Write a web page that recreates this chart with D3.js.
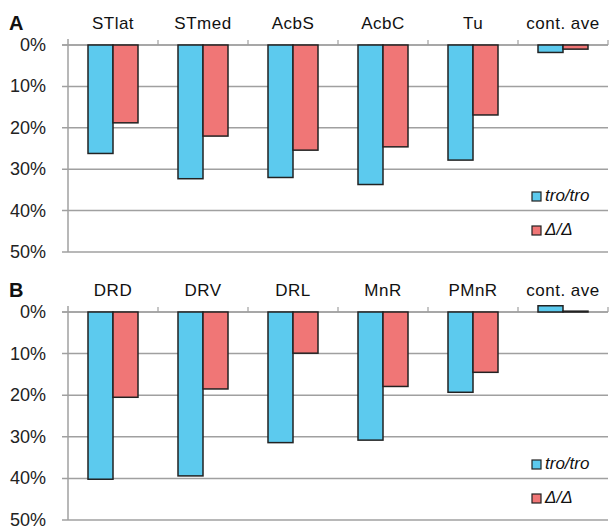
<!DOCTYPE html>
<html><head><meta charset="utf-8">
<script src="https://cdn.jsdelivr.net/npm/d3@7"></script>
<style>body{margin:0;background:#fff}svg{display:block}</style>
</head><body>
<svg id="c" width="610" height="531"></svg>
<script>
const catsA = ["STlat","STmed","AcbS","AcbC","Tu","cont. ave"];
const troA = [26.2, 32.3, 32.0, 33.7, 27.8, 1.8];
const delA = [18.8, 22.0, 25.4, 24.6, 16.9, 1.0];
const catsB = ["DRD","DRV","DRL","MnR","PMnR","cont. ave"];
const troB = [40.2, 39.4, 31.4, 30.8, 19.3, -1.5];
const delB = [20.5, 18.5, 9.9, 17.9, 14.5, -0.2];
const yTicks = [0,10,20,30,40,50];
const seriesNames = ["tro/tro","Δ/Δ"];
const colors = ["#5ccaee","#f07676"];

const svg = d3.select("#c");
const font = "'Liberation Sans', Arial, sans-serif";

function panel(letter, cats, s1, s2, y0, y1, legY){
  const x = d3.scaleBand().domain(cats).range([68,608]);
  const xs = d3.scaleBand().domain([0,1]).range([0,50]);
  const y = d3.scaleLinear().domain([0,50]).range([y0,y1]);
  const g = svg.append("g");
  g.selectAll(".grid").data(yTicks).join("line")
    .attr("x1",62).attr("x2",608)
    .attr("y1",d=>y(d)).attr("y2",d=>y(d))
    .attr("stroke",d=>d===0?"#8a8a8a":"#a0a0a0").attr("stroke-width",1.5);
  g.append("line").attr("x1",68).attr("x2",68).attr("y1",y0-6).attr("y2",y1)
    .attr("stroke","#a0a0a0").attr("stroke-width",1.5);
  g.selectAll(".ct").data(cats.slice(1).concat(["__end"])).join("line")
    .attr("x1",(d,i)=>68+(i+1)*x.step()).attr("x2",(d,i)=>68+(i+1)*x.step())
    .attr("y1",y0-5).attr("y2",y0).attr("stroke","#a0a0a0").attr("stroke-width",1.2);
  g.selectAll(".yl").data(yTicks).join("text")
    .attr("x",46).attr("y",d=>y(d)+6).attr("text-anchor","end")
    .attr("font-family",font).attr("font-size",18).attr("fill","#222")
    .text(d=>d+"%");
  g.selectAll(".cl").data(cats).join("text")
    .attr("x",d=>x(d)+x.bandwidth()/2).attr("y",y0-16).attr("text-anchor","middle")
    .attr("font-family",font).attr("font-size",17).attr("letter-spacing",0.5).attr("fill","#111")
    .text(d=>d);
  g.append("text").attr("x",9).attr("y",y0-15).attr("font-family",font)
    .attr("font-weight","bold").attr("font-size",20).attr("fill","#111").text(letter);
  const data = cats.map((c,i)=>({c, v:[s1[i],s2[i]]}));
  const grp = g.selectAll(".bg").data(data).join("g")
    .attr("transform",d=>`translate(${x(d.c)+x.bandwidth()/2-25},0)`);
  grp.selectAll("rect").data(d=>d.v.map((v,k)=>({v,k}))).join("rect")
    .attr("x",d=>xs(d.k)).attr("width",xs.bandwidth())
    .attr("y",d=>Math.min(y(0),y(d.v))).attr("height",d=>Math.abs(y(d.v)-y(0)))
    .attr("fill",d=>colors[d.k]).attr("stroke","#222").attr("stroke-width",1.5);
  seriesNames.forEach((n,k)=>{
    const ly = legY + k*34;
    g.append("rect").attr("x",532).attr("y",ly-9).attr("width",9).attr("height",9)
      .attr("fill",colors[k]).attr("stroke","#222").attr("stroke-width",1.2);
    g.append("text").attr("x",545).attr("y",ly).attr("font-family",font)
      .attr("font-style","italic").attr("font-size",17).attr("fill","#111").text(n);
  });
}
panel("A", catsA, troA, delA, 45, 252, 201);
panel("B", catsB, troB, delB, 312, 520, 469);
</script>
</body></html>
